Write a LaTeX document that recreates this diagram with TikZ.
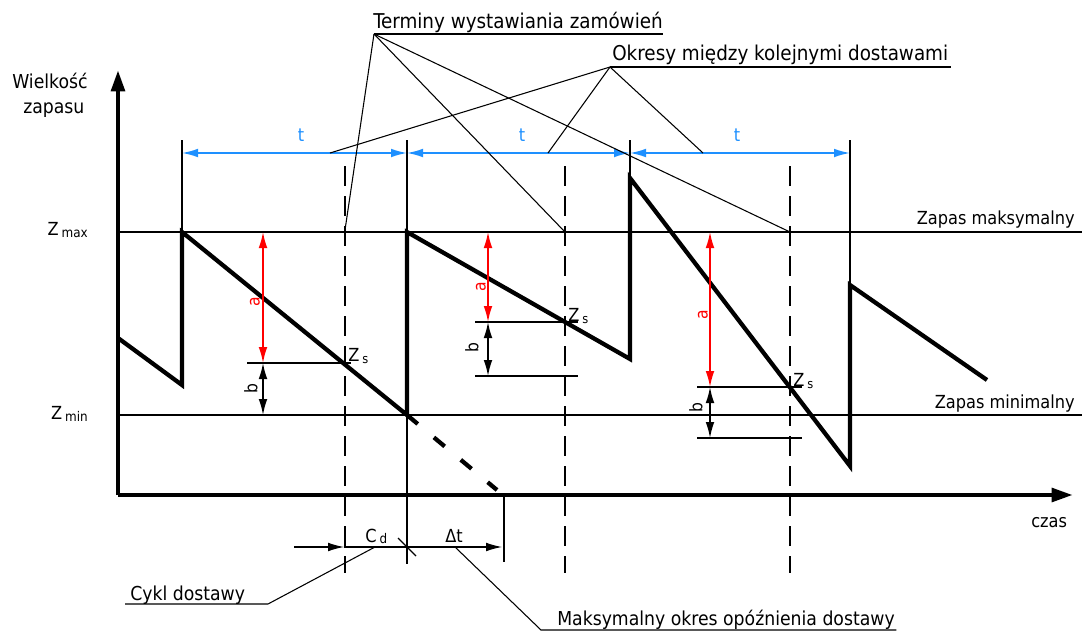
\documentclass[tikz,border=0pt]{standalone}
\usepackage{fontspec}
\setmainfont{DejaVu Sans Condensed}
\usetikzlibrary{arrows.meta}

\definecolor{dimblue}{RGB}{30,144,255}
\definecolor{dimred}{RGB}{255,0,0}

\begin{document}
\begin{tikzpicture}[x=0.75pt,y=-0.75pt,
  axis/.style={line width=3.4pt,-{Triangle[length=16pt,width=10pt]}},
  level/.style={line width=1.6pt},
  stock/.style={line width=3.2pt,line join=miter},
  late/.style={line width=3.2pt,dash pattern=on 10.5pt off 15.75pt},
  order/.style={line width=2.2pt,dash pattern=on 15pt off 7.5pt},
  fine/.style={line width=0.8pt},
  dimtip/.style={Latex[length=12pt,width=6.5pt]},
  dimt/.style={dimblue,line width=1.2pt,{Latex[length=12pt,width=6.5pt]}-{Latex[length=12pt,width=6.5pt]}},
  dima/.style={dimred,line width=1.1pt,{Latex[length=12pt,width=6.5pt]}-{Latex[length=12pt,width=6.5pt]}},
  dimb/.style={black,line width=1.1pt,{Latex[length=12pt,width=6.5pt]}-{Latex[length=12pt,width=6.5pt]}},
  title/.style={inner sep=0pt,font=\fontsize{15.3pt}{18pt}\selectfont},
  big/.style={inner sep=0pt,font=\fontsize{14.4pt}{17pt}\selectfont},
  lbl/.style={inner sep=0pt,font=\fontsize{13.5pt}{16pt}\selectfont},
  dimlbl/.style={inner sep=0pt,font=\fontsize{13pt}{15pt}\selectfont,rotate=90},
]
\useasboundingbox (0,0) rectangle (1082,632);

% ---------- axes ----------
\coordinate (O) at (118,495);
\coordinate (Ytop) at (118,70);
\coordinate (Xend) at (1073,495);
\draw[axis] (O) -- (Ytop);
\draw[axis] (O) -- (Xend);
\node[big,anchor=base west] (ylab1) at (12,88) {Wielkość};
\node[big,anchor=base west] (ylab2) at (23,113) {zapasu};
\node[lbl,anchor=base west] (xlab) at (1031,527) {czas};

% ---------- stock levels ----------
\coordinate (maxL) at (118,232);
\coordinate (maxR) at (1082,232);
\coordinate (minL) at (118,415);
\coordinate (minR) at (1082,415);
\draw[level] (maxL) -- (maxR);
\draw[level] (minL) -- (minR);
\node[lbl,anchor=base east] (zmax) at (88,235) {Z\,\raisebox{-2.2pt}{\fontsize{10pt}{11pt}\selectfont max}};
\node[lbl,anchor=base east] (zmin) at (88,419) {Z\,\raisebox{-2.2pt}{\fontsize{10pt}{11pt}\selectfont min}};
\node[lbl,anchor=base east] (zmaxtxt) at (1075,224) {Zapas maksymalny};
\node[lbl,anchor=base east] (zmintxt) at (1075,408) {Zapas minimalny};

% ---------- sawtooth of the stock ----------
\coordinate (s0) at (118,338);
\coordinate (s1) at (182,385);
\coordinate (s2) at (182,232);
\coordinate (s3) at (407,415);
\coordinate (s4) at (407,232);
\coordinate (s5) at (630,359);
\coordinate (s6) at (630,178);
\coordinate (s7) at (850,466);
\coordinate (s8) at (850,285);
\coordinate (s9) at (987,380);
\draw[stock] (s0) -- (s1) -- (s2) -- (s3) -- (s4) -- (s5) -- (s6) -- (s7) -- (s8) -- (s9);
\coordinate (lateEnd) at (497,490);
\draw[late] (s3) -- (lateEnd);

% ---------- extension lines of the delivery dates ----------
\coordinate (e1t) at (182,140);
\coordinate (e2t) at (407,140);
\coordinate (e2b) at (407,564);
\coordinate (e3t) at (630,140);
\coordinate (e4t) at (850,140);
\draw[fine] (e1t) -- (s2);
\draw[fine] (e2t) -- (e2b);
\draw[fine] (e3t) -- (s6);
\draw[fine] (e4t) -- (s8);

% ---------- periods t ----------
\coordinate (t1) at (182,153);
\coordinate (t2) at (407,153);
\coordinate (t3) at (630,153);
\coordinate (t4) at (850,153);
\draw[dimt] (t1) -- (t2);
\draw[dimt] (t2) -- (t3);
\draw[dimt] (t3) -- (t4);
\node[lbl,text=dimblue] (tl1) at (301,135) {t};
\node[lbl,text=dimblue] (tl2) at (522,135) {t};
\node[lbl,text=dimblue] (tl3) at (737,135) {t};

% ---------- ordering dates (dashed) ----------
\foreach \n/\x in {1/345,2/565,3/790}{
  \coordinate (d\n t) at (\x,166);
  \coordinate (d\n b) at (\x,573);
  \draw[order] (d\n t) -- (d\n b);
}

% ---------- reorder level Zs, first cycle ----------
\coordinate (a1t) at (263,232);
\coordinate (a1m) at (263,363);
\coordinate (a1b) at (263,415);
\coordinate (h1l) at (247,363);
\coordinate (h1r) at (351,363);
\draw[fine] (h1l) -- (h1r);
\draw[dima] (a1t) -- (a1m);
\draw[dimb] (a1m) -- (a1b);
\node[dimlbl,text=dimred] (la1) at (255,302) {a};
\node[dimlbl] (lb1) at (251,389) {b};
\node[lbl,anchor=base west] (zs1) at (348,361) {Z\,\raisebox{-2pt}{\fontsize{9.5pt}{10pt}\selectfont s}};

% ---------- second cycle ----------
\coordinate (a2t) at (488,232);
\coordinate (a2m) at (488,322);
\coordinate (a2b) at (488,376);
\coordinate (h2l) at (475,322);
\coordinate (h2r) at (578,322);
\coordinate (g2l) at (475,376);
\coordinate (g2r) at (578,376);
\draw[fine] (h2l) -- (h2r);
\draw[fine] (g2l) -- (g2r);
\draw[dima] (a2t) -- (a2m);
\draw[dimb] (a2m) -- (a2b);
\node[dimlbl,text=dimred] (la2) at (481,287) {a};
\node[dimlbl] (lb2) at (472,348) {b};
\node[lbl,anchor=base west] (zs2) at (568,321) {Z\,\raisebox{-2pt}{\fontsize{9.5pt}{10pt}\selectfont s}};

% ---------- third cycle ----------
\coordinate (a3t) at (710,232);
\coordinate (a3m) at (710,387);
\coordinate (a3b) at (710,438);
\coordinate (h3l) at (697,387);
\coordinate (h3r) at (802,387);
\coordinate (g3l) at (697,438);
\coordinate (g3r) at (802,438);
\draw[fine] (h3l) -- (h3r);
\draw[fine] (g3l) -- (g3r);
\draw[dima] (a3t) -- (a3m);
\draw[dimb] (a3m) -- (a3b);
\node[dimlbl,text=dimred] (la3) at (703,315) {a};
\node[dimlbl] (lb3) at (696,408) {b};
\node[lbl,anchor=base west] (zs3) at (793,386) {Z\,\raisebox{-2pt}{\fontsize{9.5pt}{10pt}\selectfont s}};

% ---------- delivery cycle and maximum delay ----------
\coordinate (cdL) at (294,547);
\coordinate (cdR) at (344,547);
\coordinate (cdM) at (407,547);
\coordinate (dtR) at (502,547);
\coordinate (dtTop) at (504,495);
\coordinate (dtBot) at (504,562);
\coordinate (slA) at (398,538);
\coordinate (slB) at (416,556);
\draw[fine,-{Latex[length=12pt,width=6.5pt]}] (cdL) -- (cdR);
\draw[fine] (cdR) -- (cdM);
\draw[fine,-{Latex[length=12pt,width=6.5pt]}] (cdM) -- (dtR);
\draw[line width=1.6pt] (dtTop) -- (dtBot);
\draw[fine] (slA) -- (slB);
\node[lbl,anchor=base west] (cd) at (365,542) {C\,\raisebox{-1pt}{\fontsize{10pt}{11pt}\selectfont d}};
\node[lbl,anchor=base west] (dt) at (445,542) {Δt};

% ---------- callouts ----------
\node[title,anchor=base west] (terms) at (373,28) {Terminy wystawiania zamówień};
\coordinate (tw) at (374,34);
\draw[fine] (tw) -- (tw -| terms.east);
\coordinate (o1) at (345,230);
\coordinate (o2) at (565,232);
\coordinate (o3) at (790,232);
\draw[fine] (tw) -- (o1);
\draw[fine] (tw) -- (o2);
\draw[fine] (tw) -- (o3);

\node[title,anchor=base west] (periods) at (612,60) {Okresy między kolejnymi dostawami};
\coordinate (ow) at (610,67);
\draw[fine] (ow) -- ([xshift=2pt]ow -| periods.east);
\coordinate (p1) at (330,153);
\coordinate (p2) at (548,153);
\coordinate (p3) at (703,153);
\draw[fine] (ow) -- (p1);
\draw[fine] (ow) -- (p2);
\draw[fine] (ow) -- (p3);

\node[big,anchor=base west] (cykl) at (130,600) {Cykl dostawy};
\coordinate (cw) at (125,604);
\coordinate (ck) at (268,604);
\coordinate (cdp) at (375,547);
\draw[fine] (cw) -- (ck) -- (cdp);

\node[big,anchor=base west] (delay) at (557,625) {Maksymalny okres opóźnienia dostawy};
\coordinate (dtp) at (455,547);
\coordinate (mw) at (541,630);
\draw[fine] (dtp) -- (mw) -- ([xshift=1pt]mw -| delay.east);
\end{tikzpicture}
\end{document}
